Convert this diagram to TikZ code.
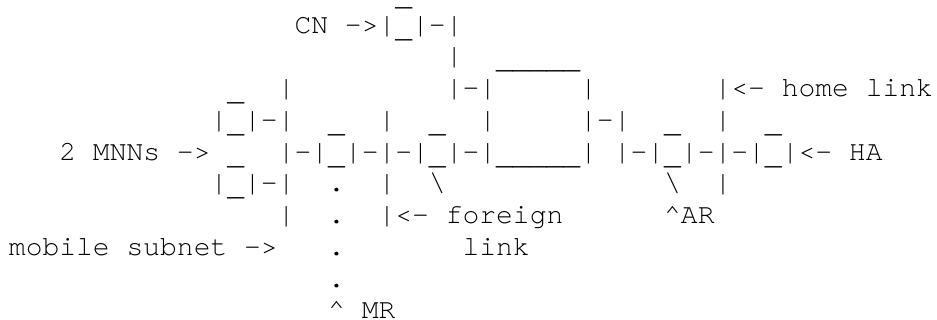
\documentclass[tikz,border=0pt]{standalone}
\usepackage{fontspec}
\setmonofont{TeX Gyre Cursor}
\newcommand\usc{\raisebox{-4pt}{\_}}
\begin{document}
\begin{tikzpicture}[x=1pt,y=1pt,
  ascii/.style={anchor=base west, inner sep=0pt, outer sep=0pt,
    font=\ttfamily\fontsize{28}{32}\selectfont}]
\useasboundingbox (0,0) rectangle (937,320);
\def\xo{9}
\node[ascii] (l0)  at (\xo,318.5) {~~~~~~~~~~~~~~~~~~~~~~~\usc};
\node[ascii] (l1)  at (\xo,286.75) {~~~~~~~~~~~~~~~~~CN~->|\usc|-|};
\node[ascii] (l2)  at (\xo,255.0) {~~~~~~~~~~~~~~~~~~~~~~~~~~|~~\usc\usc\usc\usc\usc};
\node[ascii] (l3)  at (\xo,223.25) {~~~~~~~~~~~~~\usc~~|~~~~~~~~~|-|~~~~~|~~~~~~~|<-~home~link};
\node[ascii] (l4)  at (\xo,191.5) {~~~~~~~~~~~~|\usc|-|~~\usc~~|~~\usc~~|~~~~~|-|~~\usc~~|~~\usc};
\node[ascii] (l5)  at (\xo,159.75) {~~~2~MNNs~->~\usc~~|-|\usc|-|-|\usc|-|\usc\usc\usc\usc\usc|~|-|\usc|-|-|\usc|<-~HA};
\node[ascii] (l6)  at (\xo,128.0) {~~~~~~~~~~~~|\usc|-|~~.~~|~~\textbackslash~~~~~~~~~~~~~\textbackslash~~|};
\node[ascii] (l7)  at (\xo,96.25)  {~~~~~~~~~~~~~~~~|~~.~~|<-~foreign~~~~~~\textasciicircum{}AR};
\node[ascii] (l8)  at (\xo,64.5)  {mobile~subnet~->~~~.~~~~~~~link};
\node[ascii] (l9)  at (\xo,32.75)  {~~~~~~~~~~~~~~~~~~~.};
\node[ascii] (l10) at (\xo,1.0)   {~~~~~~~~~~~~~~~~~~~\textasciicircum~MR};
\end{tikzpicture}
\end{document}
